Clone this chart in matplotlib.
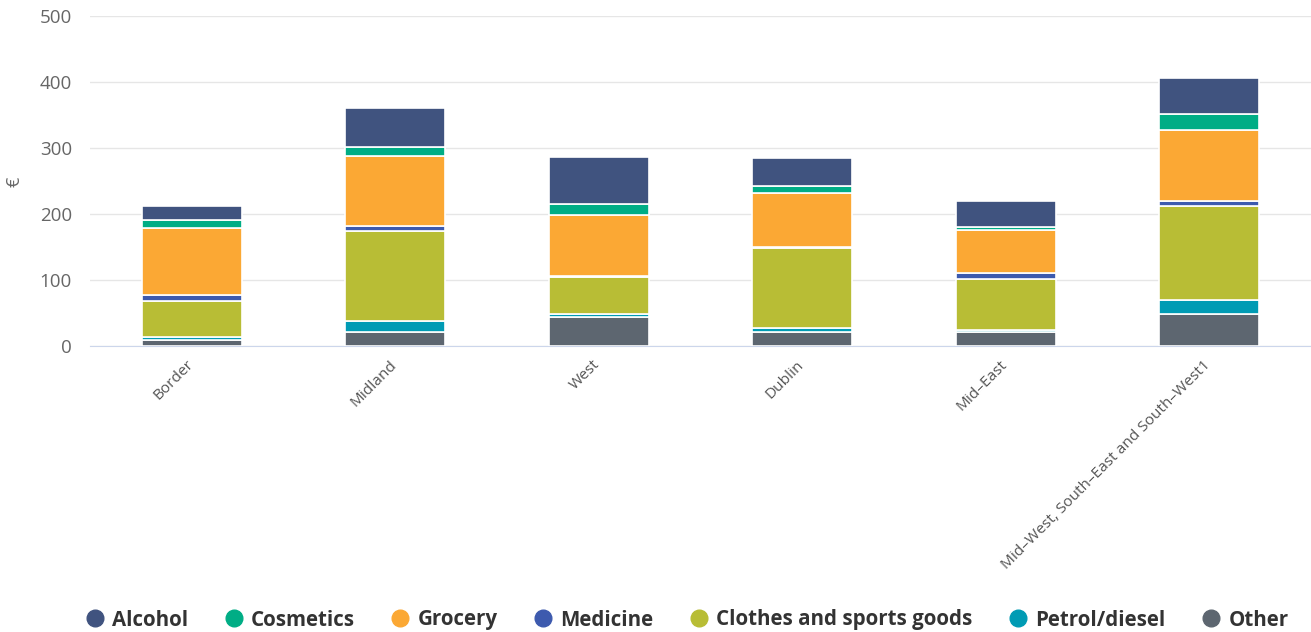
import matplotlib
matplotlib.use("Agg")
import matplotlib.pyplot as plt
from matplotlib.lines import Line2D
import matplotlib.transforms as mtransforms
import numpy as np

categories = ["Border", "Midland", "West", "Dublin", "Mid\u2013East",
              "Mid\u2013West, South\u2013East and South\u2013West1"]
series_names = ["Alcohol", "Cosmetics", "Grocery", "Medicine",
                "Clothes and sports goods", "Petrol/diesel", "Other"]
alcohol = [21, 60, 72, 42, 39, 55]
cosmetics = [12, 13, 16, 11, 4, 23]
grocery = [101, 106, 93, 82, 65, 109]
medicine = [10, 8, 2, 2, 9, 7]
clothes = [54, 136, 55, 120, 77, 143]
petrol = [5, 17, 5, 7, 4, 21]
other = [9, 21, 44, 21, 21, 48]
yticks = [0, 100, 200, 300, 400, 500]

colors = {
    "Alcohol": "#40537f",
    "Cosmetics": "#00ad85",
    "Grocery": "#fba834",
    "Medicine": "#3d5aae",
    "Clothes and sports goods": "#b8bd35",
    "Petrol/diesel": "#009bb4",
    "Other": "#5d6670",
}

plt.rcParams['font.family'] = ['Open Sans', 'DejaVu Sans']
fig = plt.figure(figsize=(13.11, 6.32), dpi=100)
ax = fig.add_axes([90/1311, 1-346/632, 1-90/1311, (346-16)/632])

x = np.arange(len(categories))
stack_order = [("Other", other), ("Petrol/diesel", petrol),
               ("Clothes and sports goods", clothes), ("Medicine", medicine),
               ("Grocery", grocery), ("Cosmetics", cosmetics), ("Alcohol", alcohol)]
bottom = np.zeros(len(categories))
for name, vals in stack_order:
    v = np.array(vals, dtype=float)
    ax.bar(x, v, bottom=bottom, width=0.49, color=colors[name],
           edgecolor="white", linewidth=1.2, zorder=3)
    bottom += v

ax.set_xlim(-0.5, len(categories) - 0.5)
ax.set_ylim(0, 500)
ax.set_yticks(yticks)
ax.set_yticklabels([str(t) for t in yticks], fontsize=13.5, color="#666666")
ax.grid(axis="y", color="#e6e6e6", linewidth=1, zorder=0)
ax.tick_params(axis="y", length=0, pad=13)
ax.tick_params(axis="x", length=0, pad=6)
ax.set_xticks(x)
ax.set_xticklabels(categories, rotation=45, ha="right", va="top",
                   rotation_mode="anchor", fontsize=11.1, color="#555555")
offset = mtransforms.ScaledTranslation(-6/100, -3/100, fig.dpi_scale_trans)
for lab in ax.get_xticklabels():
    lab.set_transform(lab.get_transform() + offset)
for s in ["top", "right", "left"]:
    ax.spines[s].set_visible(False)
ax.spines["bottom"].set_color("#ccd6eb")
fig.text(15/1311, 1-182/632, "\u20ac", rotation=90, fontsize=13, color="#666666",
         ha="center", va="center")

handles = [Line2D([0], [0], marker="o", linestyle="none", markersize=12,
                  markerfacecolor=colors[n], markeredgecolor=colors[n]) for n in series_names]
fig.legend(handles, series_names, loc="center", ncol=7, frameon=False,
           bbox_to_anchor=(0.5 + 30/1311, 1-620/632), handletextpad=0.25, columnspacing=1.6,
           handlelength=1.2,
           prop={"size": 14.8, "weight": "bold"}, labelcolor="#333333")

fig.savefig("out.png", dpi=100)
